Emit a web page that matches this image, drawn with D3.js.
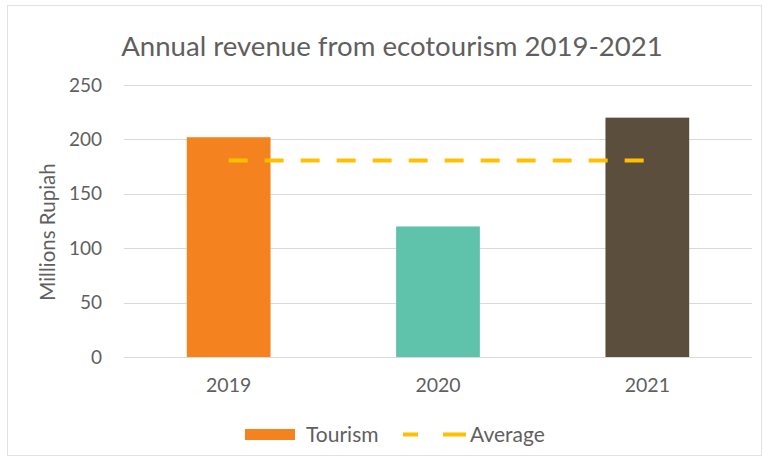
<!DOCTYPE html>
<html>
<head>
<meta charset="utf-8">
<script src="https://cdn.jsdelivr.net/npm/d3@7"></script>
<style>
  html, body { margin: 0; padding: 0; background: #fff; }
  svg { display: block; }
  text { font-family: Lato, "Open Sans", sans-serif; fill: #5f5f5f; }
</style>
</head>
<body>
<svg id="chart" width="764" height="465"></svg>
<script>
// Annual ecotourism revenue, millions of rupiah
const years = ["2019", "2020", "2021"];
const revenue = [202, 120, 220];
const barColors = ["#F4831F", "#5FC3AB", "#5B4E3C"];
const yTicks = [0, 50, 100, 150, 200, 250];
const titleText = "Annual revenue from ecotourism 2019-2021";
const yLabel = "Millions Rupiah";
const legendLabels = ["Tourism", "Average"];

const average = d3.mean(revenue);

const svg = d3.select("#chart");
const W = 764, H = 465;
const margin = { left: 124, right: 12, top: 85, bottom: 108 };
const textColor = "#5f5f5f";

// chart frame
svg.append("rect")
  .attr("x", 7.5).attr("y", 5.5)
  .attr("width", 754).attr("height", 450)
  .attr("fill", "#fff").attr("stroke", "#e2e2e2").attr("stroke-width", 1);

const x = d3.scaleBand()
  .domain(years)
  .range([margin.left, W - margin.right])
  .paddingInner(0.6).paddingOuter(0.3);

const y = d3.scaleLinear()
  .domain([0, 250])
  .range([H - margin.bottom, margin.top]);

// gridlines
svg.append("g")
  .selectAll("line")
  .data(yTicks)
  .join("line")
  .attr("x1", margin.left).attr("x2", W - margin.right)
  .attr("y1", d => Math.round(y(d)) + 0.5).attr("y2", d => Math.round(y(d)) + 0.5)
  .attr("stroke", "#d9d9d9").attr("stroke-width", 1);

// y axis labels
const yAxis = svg.append("g")
  .attr("transform", `translate(${margin.left},0)`)
  .call(d3.axisLeft(y).tickValues(yTicks).tickSize(0).tickPadding(22));
yAxis.select(".domain").remove();
yAxis.selectAll("text")
  .attr("font-size", 19)
  .style("font-family", "Lato, 'Open Sans', sans-serif")
  .attr("fill", textColor);

// bars
svg.append("g")
  .selectAll("rect")
  .data(years)
  .join("rect")
  .attr("x", d => x(d))
  .attr("width", x.bandwidth())
  .attr("y", (d, i) => y(revenue[i]))
  .attr("height", (d, i) => y(0) - y(revenue[i]))
  .attr("fill", (d, i) => barColors[i]);

// average line across category centres
const avgLine = d3.line()
  .x(d => x(d) + x.bandwidth() / 2)
  .y(() => y(average));
svg.append("path")
  .datum(years)
  .attr("d", avgLine)
  .attr("fill", "none")
  .attr("stroke", "#FFC000")
  .attr("stroke-width", 4)
  .attr("stroke-dasharray", "19,17");

// x axis labels
const xAxis = svg.append("g")
  .attr("transform", `translate(0,${y(0)})`)
  .call(d3.axisBottom(x).tickSize(0).tickPadding(21));
xAxis.select(".domain").remove();
xAxis.selectAll("text")
  .attr("font-size", 19.5)
  .style("font-family", "Lato, 'Open Sans', sans-serif")
  .attr("fill", textColor);

// title
svg.append("text")
  .attr("x", 392).attr("y", 56)
  .attr("text-anchor", "middle")
  .attr("font-size", 27.6)
  .text(titleText);

// y axis title
svg.append("text")
  .attr("transform", `translate(55,${232}) rotate(-90)`)
  .attr("text-anchor", "middle")
  .attr("font-size", 20.5)
  .text(yLabel);

// legend
const legend = svg.append("g");
legend.append("rect")
  .attr("x", 245).attr("y", 429)
  .attr("width", 50).attr("height", 11)
  .attr("fill", barColors[0]);
legend.append("text")
  .attr("x", 306).attr("y", 442)
  .attr("font-size", 21)
  .text(legendLabels[0]);
legend.append("line")
  .attr("x1", 403).attr("x2", 466)
  .attr("y1", 434.5).attr("y2", 434.5)
  .attr("stroke", "#FFC000").attr("stroke-width", 4)
  .attr("stroke-dasharray", "15,25,23");
legend.append("text")
  .attr("x", 470).attr("y", 442)
  .attr("font-size", 21)
  .text(legendLabels[1]);
</script>
</body>
</html>
